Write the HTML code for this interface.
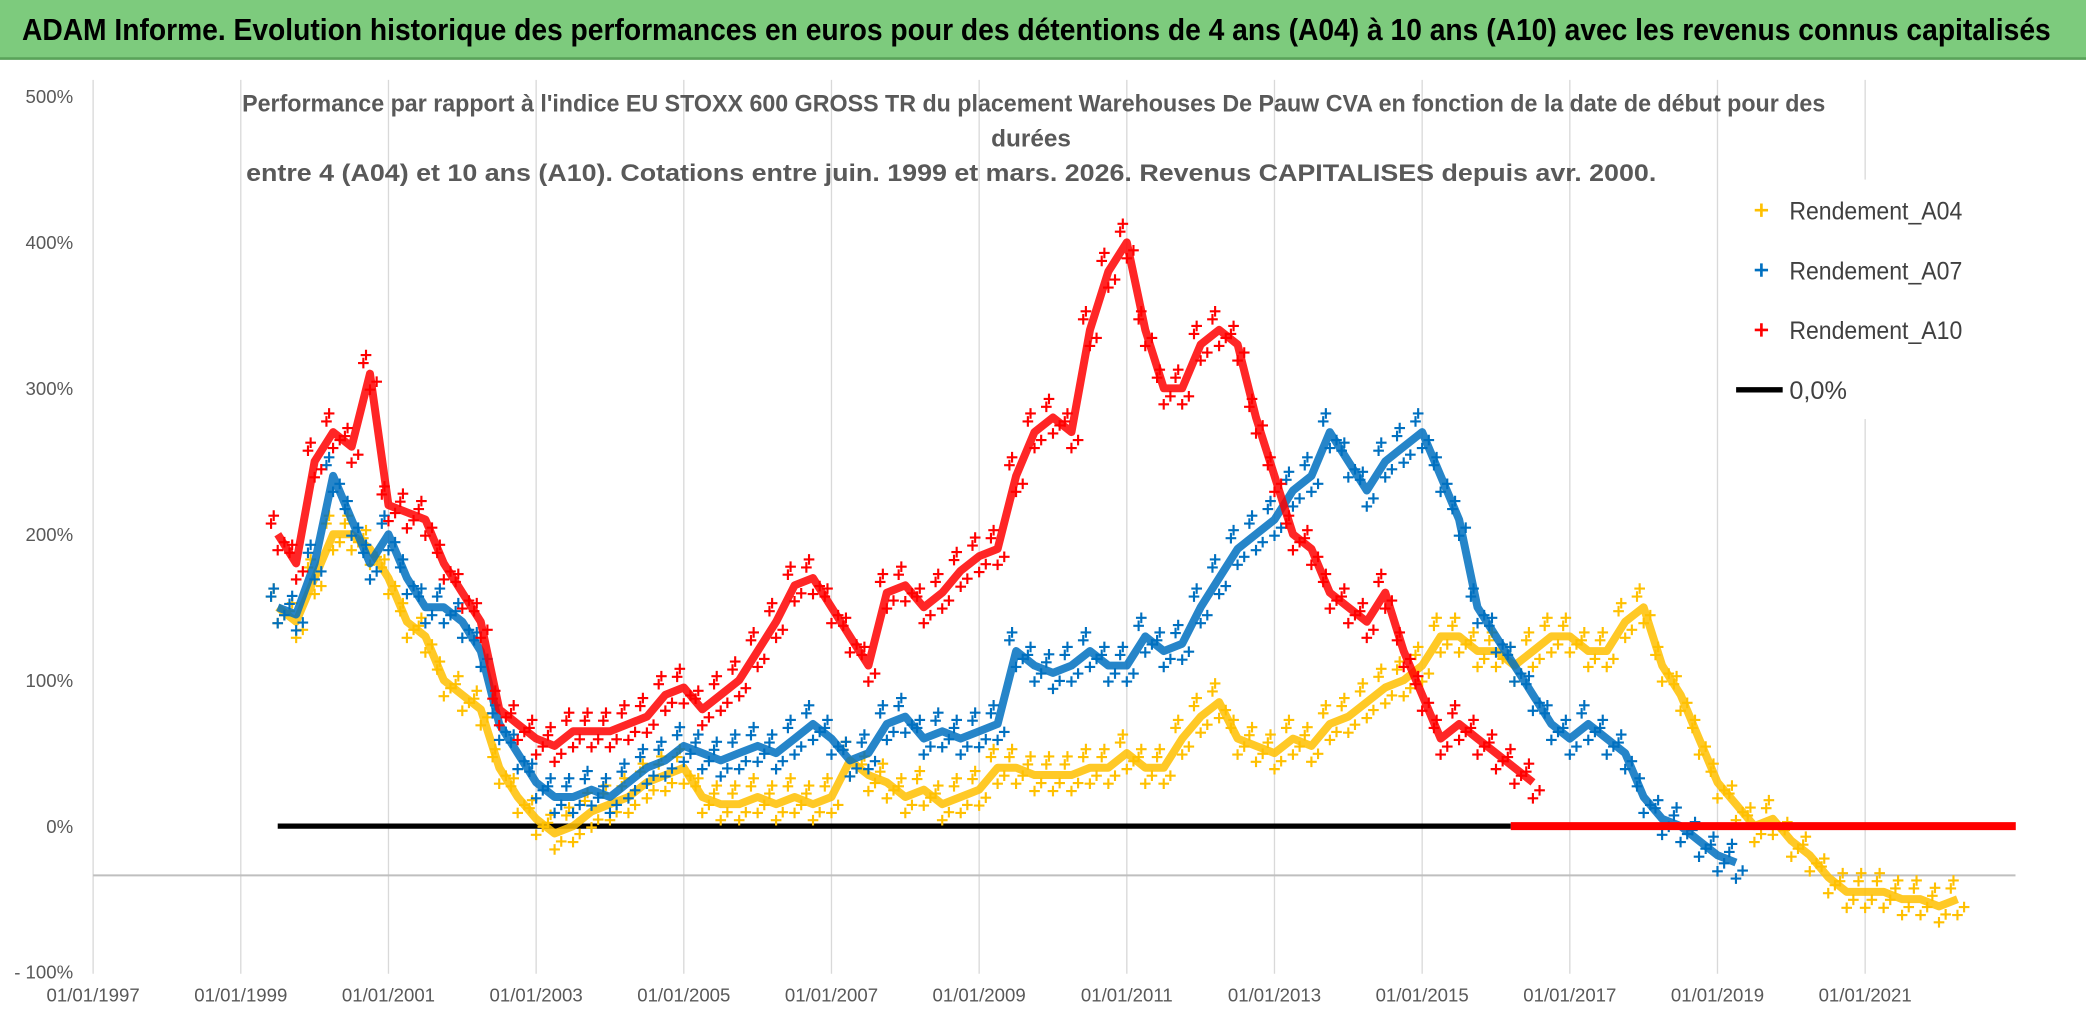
<!DOCTYPE html>
<html><head><meta charset="utf-8"><style>
body{margin:0;width:2086px;height:1031px;background:#fff;overflow:hidden;font-family:"Liberation Sans",sans-serif}
</style></head><body>
<svg id="chart" width="2086" height="1031" viewBox="0 0 1568 775" preserveAspectRatio="none" style="position:absolute;left:0;top:0">
<rect x="0" y="0" width="1568" height="44" fill="#7dcb7d"/>
<line x1="0" x2="1568" y1="44" y2="44" stroke="#5aa35a" stroke-width="2"/>
<text x="779" y="30" text-anchor="middle" font-size="23" font-weight="bold" fill="#000" textLength="1525" lengthAdjust="spacingAndGlyphs">ADAM Informe. Evolution historique des performances en euros pour des détentions de 4 ans (A04) à 10 ans (A10) avec les revenus connus capitalisés</text>
</svg>
<script>
const yearTicks=[1997,1999,2001,2003,2005,2007,2009,2011,2013,2015,2017,2019,2021];
const yTicks=[500,400,300,200,100,0,-100];
const tStart=1999.5, tStep=0.25;
const a10=[200,180,250,270,260,310,220,215,210,180,160,140,80,70,60,55,65,65,65,70,75,90,95,80,90,100,120,140,165,170,150,130,110,160,165,150,160,175,185,190,240,270,280,270,340,380,400,340,300,300,330,340,330,280,240,200,190,160,150,140,160,120,90,60,70,60,50,40,30];
const a07=[150,145,180,240,210,180,200,170,150,150,140,120,70,50,30,20,20,25,20,30,40,45,55,50,45,50,55,50,60,70,60,45,50,70,75,60,65,60,65,70,120,110,105,110,120,110,110,130,120,125,150,170,190,200,210,230,240,270,250,230,250,260,270,240,210,150,130,110,90,70,60,70,60,50,20,5,0,-10,-20,-25];
const a04=[150,140,170,200,200,190,170,140,130,100,90,80,40,20,5,-5,0,10,15,20,30,35,40,20,15,15,20,15,20,15,20,45,35,30,20,25,15,20,25,40,40,35,35,35,40,40,50,40,40,60,75,85,60,55,50,60,55,70,75,85,95,100,110,130,130,120,120,110,120,130,130,120,120,140,150,110,90,60,30,15,0,5,-10,-20,-35,-45,-45,-45,-50,-50,-55,-50];
const zeroBlack=[1999.5,2016.2], zeroRed=[2016.2,2023.04];
const X=t=>70+(t-1997)*55.5, Y=v=>621-v*1.097;
const svg=document.getElementById('chart'), NS='http://www.w3.org/2000/svg';
function mk(tag,attrs,parent){const e=document.createElementNS(NS,tag);for(const k in attrs)e.setAttribute(k,attrs[k]);(parent||svg).appendChild(e);return e;}
yearTicks.forEach(y=>{const g=mk('line',{x1:X(y),x2:X(y),y1:60,y2:732,stroke:'#d9d9d9','stroke-width':1});


const t=mk('text',{x:X(y),y:753,'text-anchor':'middle','font-size':14,fill:'#595959'});t.textContent='01/01/'+y;

});
mk('line',{x1:70,x2:1515,y1:658,y2:658,stroke:'#bfbfbf','stroke-width':1.5});
yTicks.forEach(v=>{const t=mk('text',{x:55,y:Y(v)+5,'text-anchor':'end','font-size':14,fill:'#595959'});t.textContent=(v<0?'- ':'')+Math.abs(v)+'%';

});
const sub=['Performance par rapport à l\'indice EU STOXX 600 GROSS TR  du placement Warehouses De Pauw CVA en fonction de la date de début pour des','durées','entre 4 (A04) et 10 ans (A10). Cotations entre juin. 1999 et mars. 2026. Revenus CAPITALISES depuis avr. 2000.'];
const subLen=[1190,60,1060];
sub.forEach((s,i)=>{const t=mk('text',{x:i==1?775:(i==0?777:715),y:84+i*26,'text-anchor':'middle','font-size':18,'font-weight':'bold',fill:'#595959',textLength:subLen[i],lengthAdjust:'spacingAndGlyphs'});t.textContent=s;

});
const zb=mk('line',{x1:X(zeroBlack[0]),x2:X(zeroBlack[1]),y1:Y(0),y2:Y(0),stroke:'#000','stroke-width':4});


function series(arr,col,name){const g=mk('g',{});


const pts=arr.map((v,i)=>X(tStart+i*tStep).toFixed(1)+','+Y(v).toFixed(1)).join(' ');
mk('polyline',{points:pts,fill:'none',stroke:col,'stroke-width':6,'stroke-linejoin':'round',opacity:0.85},g);
arr.forEach((v,i)=>{const x=X(tStart+i*tStep),y=Y(v);[[-5,-8],[5,6],[0,12],[-3,-14]].forEach(o=>{const p=mk('path',{d:`M${x+o[0]-4},${y+o[1]}h8M${x+o[0]},${y+o[1]-4}v8`,stroke:col,'stroke-width':1.6},g);

});});}
series(a04,'#ffc000','series-a04');
series(a07,'#0070c0','series-a07');
series(a10,'#ff0000','series-a10');
const zr=mk('line',{x1:X(zeroRed[0]),x2:X(zeroRed[1]),y1:Y(0),y2:Y(0),stroke:'#ff0000','stroke-width':6});


const leg=[['Rendement_A04','#ffc000'],['Rendement_A07','#0070c0'],['Rendement_A10','#ff0000'],['0,0%','#000']];
mk('rect',{x:1300,y:135,width:220,height:180,fill:'#fff'});
leg.forEach((l,i)=>{const y=158+i*45;const g=mk('g',{});


if(i<3)mk('path',{d:`M1319,${y}h10M1324,${y-5}v10`,stroke:l[1],'stroke-width':2},g);
else mk('line',{x1:1305,x2:1340,y1:y,y2:y,stroke:'#000','stroke-width':4},g);
const a={x:1345,y:y+7,'font-size':19,fill:'#404040'};if(i<3){a.textLength=130;a.lengthAdjust='spacingAndGlyphs';}
const t=mk('text',a,g);t.textContent=l[0];});
</script>
</body></html>
